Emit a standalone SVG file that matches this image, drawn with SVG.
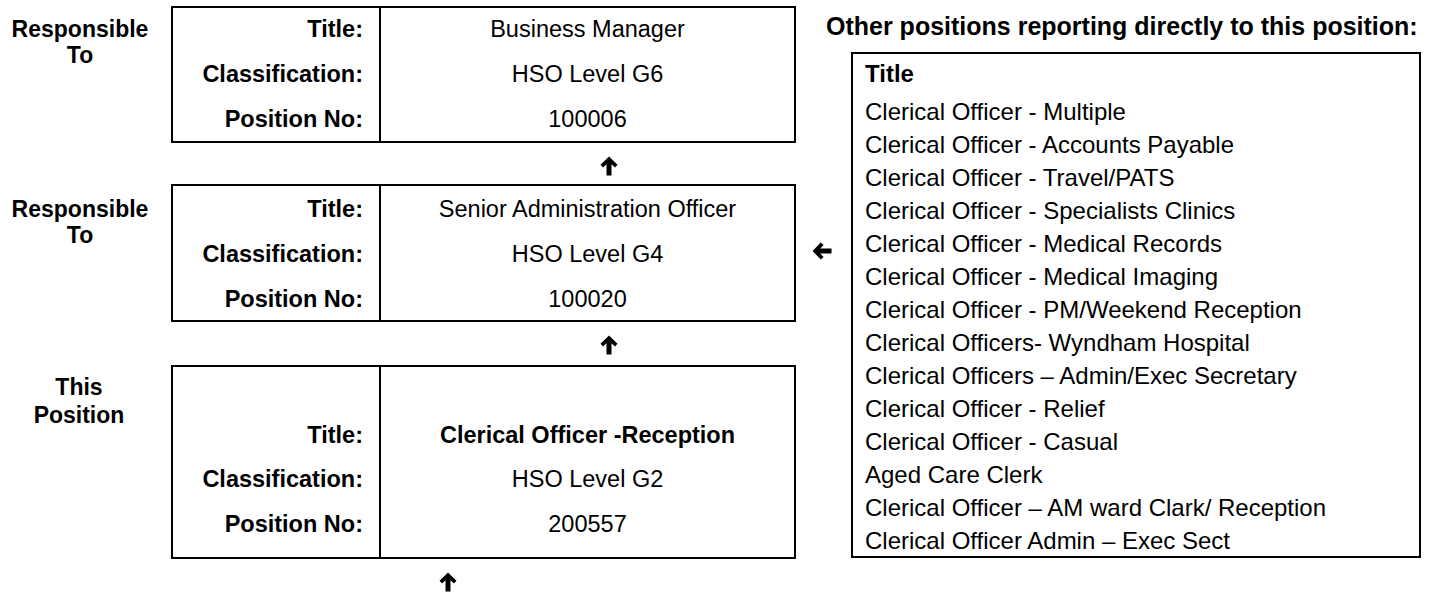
<svg xmlns="http://www.w3.org/2000/svg" width="1435" height="593" viewBox="0 0 1435 593">
<style>
text{font-family:"Liberation Sans",Arial,sans-serif;font-size:23.5px;fill:#000}
.b{font-weight:bold}
.lbl{font-weight:bold;text-anchor:end;font-size:23.5px}
.val{text-anchor:middle}
.side{font-weight:bold;text-anchor:middle;font-size:23px}
.hdr{font-weight:bold;font-size:25px}
.li{font-size:24px}
.box{fill:#fff;stroke:#000;stroke-width:2}
.div{stroke:#000;stroke-width:2}
.arr{fill:#000}
</style>
<defs>
<path id="arrowUp" d="M0,-9.5 L8.5,-1.2 L6,1.6 L2.5,-1.8 L2.5,9.5 L-2.5,9.5 L-2.5,-1.8 L-6,1.6 L-8.5,-1.2 Z"/>
</defs>

<g id="label-responsible-1">
<text class="side" x="80" y="37">Responsible</text>
<text class="side" x="80" y="63">To</text>
</g>
<g id="label-responsible-2">
<text class="side" x="80" y="217">Responsible</text>
<text class="side" x="80" y="243">To</text>
</g>
<g id="label-this-position">
<text class="side" x="79" y="395">This</text>
<text class="side" x="79" y="423">Position</text>
</g>

<g id="node-business-manager">
<rect class="box" x="172" y="7" width="623" height="135"/>
<line class="div" x1="380" y1="7" x2="380" y2="142"/>
<text class="lbl" x="363" y="37">Title:</text>
<text class="lbl" x="363" y="82">Classification:</text>
<text class="lbl" x="363" y="127">Position No:</text>
<text class="val" x="587.5" y="37">Business Manager</text>
<text class="val" x="587.5" y="82">HSO Level G6</text>
<text class="val" x="587.5" y="127">100006</text>
</g>

<g id="node-senior-admin-officer">
<rect class="box" x="172" y="185" width="623" height="136"/>
<line class="div" x1="380" y1="185" x2="380" y2="321"/>
<text class="lbl" x="363" y="217">Title:</text>
<text class="lbl" x="363" y="262">Classification:</text>
<text class="lbl" x="363" y="307">Position No:</text>
<text class="val" x="587.5" y="217">Senior Administration Officer</text>
<text class="val" x="587.5" y="262">HSO Level G4</text>
<text class="val" x="587.5" y="307">100020</text>
</g>

<g id="node-this-position">
<rect class="box" x="172" y="366" width="623" height="192"/>
<line class="div" x1="380" y1="366" x2="380" y2="558"/>
<text class="lbl" x="363" y="443">Title:</text>
<text class="lbl" x="363" y="487">Classification:</text>
<text class="lbl" x="363" y="532">Position No:</text>
<text class="val b" x="587.5" y="443">Clerical Officer -Reception</text>
<text class="val" x="587.5" y="487">HSO Level G2</text>
<text class="val" x="587.5" y="532">200557</text>
</g>

<g id="node-other-positions">
<text class="hdr" x="826" y="35">Other positions reporting directly to this position:</text>
<rect class="box" x="852" y="53" width="568" height="504"/>
<text class="b li" x="865" y="82">Title</text>
<text class="li" x="865" y="120">Clerical Officer - Multiple</text>
<text class="li" x="865" y="153">Clerical Officer - Accounts Payable</text>
<text class="li" x="865" y="186">Clerical Officer - Travel/PATS</text>
<text class="li" x="865" y="219">Clerical Officer - Specialists Clinics</text>
<text class="li" x="865" y="252">Clerical Officer - Medical Records</text>
<text class="li" x="865" y="285">Clerical Officer - Medical Imaging</text>
<text class="li" x="865" y="318">Clerical Officer - PM/Weekend Reception</text>
<text class="li" x="865" y="351">Clerical Officers- Wyndham Hospital</text>
<text class="li" x="865" y="384">Clerical Officers – Admin/Exec Secretary</text>
<text class="li" x="865" y="417">Clerical Officer - Relief</text>
<text class="li" x="865" y="450">Clerical Officer - Casual</text>
<text class="li" x="865" y="483">Aged Care Clerk</text>
<text class="li" x="865" y="516">Clerical Officer – AM ward Clark/ Reception</text>
<text class="li" x="865" y="549">Clerical Officer Admin – Exec Sect</text>
</g>

<g id="connectors">
<use href="#arrowUp" class="arr" transform="translate(609,166)"/>
<use href="#arrowUp" class="arr" transform="translate(609,345)"/>
<use href="#arrowUp" class="arr" transform="translate(448,582)"/>
<use href="#arrowUp" class="arr" transform="translate(822,251) rotate(-90)"/>
</g>
</svg>
